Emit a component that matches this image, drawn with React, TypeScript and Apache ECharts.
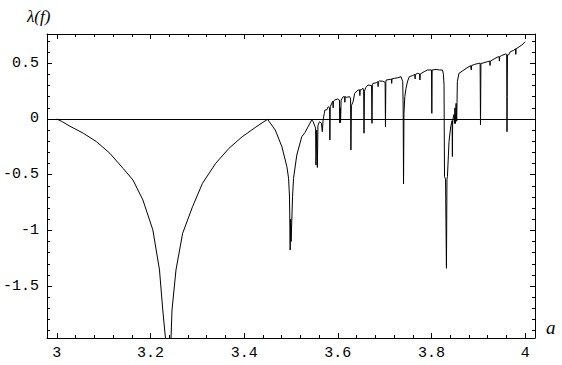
import React, { useEffect, useRef } from "react";
import * as echarts from "echarts";

// Control parameter a (x) and Lyapunov exponent λ(f) (y)
const aValues = [
  3.0, 3.012, 3.028, 3.0566, 3.0848, 3.1132, 3.1414, 3.1626, 3.1838, 3.205, 3.2192, 3.2262, 3.2319, 3.237,
  3.2438, 3.2459, 3.2544, 3.2686, 3.2898, 3.311, 3.3392, 3.3676, 3.3958, 3.4064, 3.425, 3.44, 3.45,
  3.4664, 3.4806, 3.4912, 3.4948, 3.4968, 3.4982, 3.4992, 3.5002, 3.5033, 3.5054, 3.5124, 3.523, 3.53, 3.537, 3.5442,
  3.547, 3.5499, 3.5525, 3.5533, 3.5548, 3.5563, 3.5575, 3.56, 3.5618, 3.565, 3.5669, 3.5685, 3.5711, 3.5724, 3.576,
  3.5796, 3.5825, 3.583, 3.5838, 3.588, 3.5936, 3.6, 3.6035, 3.6042, 3.605, 3.6058, 3.607, 3.6114, 3.618, 3.6254,
  3.6272, 3.6279, 3.629, 3.6326, 3.636, 3.6432, 3.65, 3.6538, 3.6552, 3.6559, 3.6568, 3.66, 3.6644, 3.672, 3.6729,
  3.6738, 3.675, 3.682, 3.689, 3.695, 3.701, 3.7017, 3.7025, 3.7032, 3.712, 3.7208, 3.728, 3.735, 3.7386, 3.7395,
  3.7403, 3.7412, 3.743, 3.7456, 3.749, 3.7526, 3.76, 3.7704, 3.7745, 3.7753, 3.7762, 3.7844, 3.7916, 3.8, 3.8007,
  3.8014, 3.81, 3.817, 3.8234, 3.8255, 3.8268, 3.8272, 3.8278, 3.83, 3.8319, 3.833, 3.834, 3.8374, 3.841, 3.844,
  3.8446, 3.8452, 3.848, 3.849, 3.85, 3.8512, 3.8525, 3.8538, 3.8545, 3.8552, 3.8586, 3.8692, 3.876, 3.8834, 3.892,
  3.901, 3.9038, 3.9043, 3.9046, 3.905, 3.9055, 3.9082, 3.9188, 3.93, 3.94, 3.95, 3.9576, 3.9605, 3.961, 3.9612,
  3.9616, 3.9622, 3.9646, 3.9682, 3.975, 3.9824, 3.993, 4.0,
];
const lambdaValues = [
  0, -0.025, -0.065, -0.128, -0.204, -0.308, -0.443, -0.548, -0.727, -0.996, -1.355, -1.715, -1.966, -2.6,
  -1.966, -1.715, -1.355, -1.026, -0.787, -0.577, -0.398, -0.263, -0.159, -0.128, -0.072, -0.03, -0.003,
  -0.099, -0.249, -0.428, -0.532, -0.7, -1.176, -0.9, -1.1, -0.697, -0.532, -0.323, -0.159, -0.12, -0.065, -0.009,
  -0.02, -0.054, -0.08, -0.413, -0.1, -0.435, -0.06, -0.03, -0.024, -0.04, -0.114, -0.01, 0.051, 0.081, 0.081,
  0.11, 0.1, -0.189, 0.11, 0.15, 0.171, 0.18, 0.17, -0.036, 0.1, -0.03, 0.17, 0.2, 0.195, 0.2,
  0.18, -0.278, 0.12, 0.155, 0.231, 0.26, 0.262, 0.276, 0.25, -0.128, 0.25, 0.285, 0.305, 0.3, -0.039,
  0.3, 0.32, 0.325, 0.341, 0.34, 0.33, -0.069, 0.33, 0.35, 0.355, 0.365, 0.37, 0.38, 0.335, 0.1,
  -0.583, 0.05, 0.2, 0.276, 0.34, 0.38, 0.39, 0.41, 0.405, 0.35, 0.405, 0.425, 0.44, 0.44, 0.051,
  0.44, 0.445, 0.44, 0.44, 0.4, 0.3, -0.1, -0.518, -0.54, -1.34, -0.54, -0.518, -0.204, -0.069, -0.015,
  -0.338, -0.01, 0.04, -0.04, 0.1, -0.04, 0.14, -0.02, 0.15, 0.335, 0.41, 0.44, 0.46, 0.478, 0.49,
  0.5, 0.5, 0.17, -0.054, 0.17, 0.5, 0.5, 0.514, 0.53, 0.554, 0.57, 0.583, 0.58, 0.2, -0.114,
  0.2, 0.575, 0.575, 0.604, 0.615, 0.635, 0.664, 0.694,
];

// Small hair-like dips in the chaotic band: position, curve level, dip bottom
const hairA = [3.59, 3.615, 3.647, 3.686, 3.715, 3.765, 3.885, 3.925, 3.945, 3.98];
const hairTop = [0.16, 0.2, 0.262, 0.335, 0.36, 0.4, 0.48, 0.52, 0.56, 0.63];
const hairBottom = [0.1, 0.15, 0.21, 0.29, 0.32, 0.36, 0.44, 0.48, 0.52, 0.58];

const xMajorTicks = [3, 3.2, 3.4, 3.6, 3.8, 4];
const xMinorTicks = [
  3.04, 3.08, 3.12, 3.16, 3.24, 3.28, 3.32, 3.36, 3.44, 3.48, 3.52, 3.56, 3.64, 3.68, 3.72, 3.76, 3.84, 3.88,
  3.92, 3.96,
];
const yMajorTicks = [-1.5, -1, -0.5, 0, 0.5];
const yMinorTicks = [
  -1.9, -1.8, -1.7, -1.6, -1.4, -1.3, -1.2, -1.1, -0.9, -0.8, -0.7, -0.6, -0.4, -0.3, -0.2, -0.1, 0.1, 0.2, 0.3,
  0.4, 0.6, 0.7,
];

const X_MIN = 2.979;
const X_MAX = 4.021;
const Y_MIN = -1.966;
const Y_MAX = 0.763;

const labelFont = {
  fontFamily: "'Liberation Mono', 'DejaVu Sans Mono', monospace",
  fontSize: 15,
  color: "#000",
};

function makeX(position: string, major: boolean, labels: boolean) {
  return {
    type: "value",
    position,
    min: X_MIN,
    max: X_MAX,
    axisLine: { show: major, onZero: false, lineStyle: { color: "#000", width: 1 } },
    axisTick: {
      show: true,
      inside: true,
      length: major ? 5 : 3,
      customValues: major ? xMajorTicks : xMinorTicks,
      lineStyle: { color: "#000", width: 1 },
    },
    axisLabel: labels
      ? { show: true, customValues: xMajorTicks, margin: 8, ...labelFont, formatter: (v: number) => String(v) }
      : { show: false },
    splitLine: { show: false },
  };
}

function makeY(position: string, major: boolean, labels: boolean) {
  return {
    type: "value",
    position,
    min: Y_MIN,
    max: Y_MAX,
    axisLine: { show: major, onZero: false, lineStyle: { color: "#000", width: 1 } },
    axisTick: {
      show: true,
      inside: true,
      length: major ? 5 : 3,
      customValues: major ? yMajorTicks : yMinorTicks,
      lineStyle: { color: "#000", width: 1 },
    },
    axisLabel: labels
      ? { show: true, customValues: yMajorTicks, margin: 8, ...labelFont, formatter: (v: number) => String(v) }
      : { show: false },
    splitLine: { show: false },
  };
}

export default function App() {
  const ref = useRef<HTMLDivElement>(null);
  useEffect(() => {
    if (!ref.current) return;
    const chart = echarts.init(ref.current, undefined, { renderer: "svg" });
    const base = aValues.map((a, i) => [a, lambdaValues[i]]);
    const hairs: number[][] = [];
    hairA.forEach((a, i) => {
      hairs.push([a - 0.0006, hairTop[i]], [a, hairBottom[i]], [a + 0.0006, hairTop[i]]);
    });
    const data = base.concat(hairs).sort((p, q) => p[0] - q[0]);
    chart.setOption({
      animation: false,
      backgroundColor: "#fff",
      grid: { left: 43, right: 27, top: 34, bottom: 27, containLabel: false },
      xAxis: [makeX("bottom", true, true), makeX("bottom", false, false), makeX("top", true, false), makeX("top", false, false)],
      yAxis: [makeY("left", true, true), makeY("left", false, false), makeY("right", true, false), makeY("right", false, false)],
      graphic: [
        {
          type: "text",
          left: 27,
          top: 8,
          style: {
            text: "λ(f)",
            font: "italic 17px 'Liberation Serif', 'DejaVu Serif', serif",
            fill: "#000",
          },
        },
        {
          type: "text",
          left: 546,
          top: 318,
          style: {
            text: "a",
            font: "italic 19px 'Liberation Serif', 'DejaVu Serif', serif",
            fill: "#000",
          },
        },
      ],
      series: [
        {
          type: "line",
          xAxisIndex: 0,
          yAxisIndex: 0,
          data,
          symbol: "none",
          showSymbol: false,
          clip: true,
          lineStyle: { color: "#000", width: 1 },
          markLine: {
            silent: true,
            symbol: ["none", "none"],
            label: { show: false },
            lineStyle: { color: "#000", width: 1.2, type: "solid" },
            data: [{ yAxis: 0 }],
          },
        },
      ],
    });
    return () => chart.dispose();
  }, []);
  return (
    <div
      ref={ref}
      style={{ position: "fixed", left: 0, top: 0, width: 562, height: 365, background: "#fff" }}
    />
  );
}
